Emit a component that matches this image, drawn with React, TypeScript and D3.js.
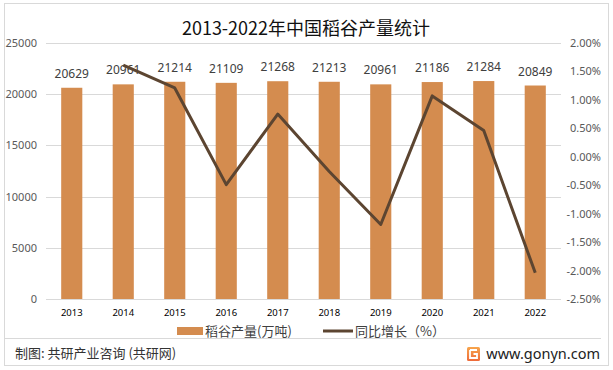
import { useEffect, useRef } from "react"
import * as d3 from "d3"

const years = ["2013", "2014", "2015", "2016", "2017", "2018", "2019", "2020", "2021", "2022"]
const output = [20629, 20961, 21214, 21109, 21268, 21213, 20961, 21186, 21284, 20849]
// 同比增长 (%), first year has none
const growth = [null, 1.61, 1.21, -0.49, 0.75, -0.26, -1.19, 1.07, 0.46, -2.04]
const leftTicks = [0, 5000, 10000, 15000, 20000, 25000]
const rightTicks = [-2.5, -2, -1.5, -1, -0.5, 0, 0.5, 1, 1.5, 2]

const W = 613
const H = 370
const CJK = "'Noto Sans CJK SC', 'Noto Sans', sans-serif"
const NUM = "'Noto Sans', 'DejaVu Sans', sans-serif"

export default function App() {
  const ref = useRef<SVGSVGElement | null>(null)

  useEffect(() => {
    if (!ref.current) return
    const svg = d3.select(ref.current)
    svg.selectAll("*").remove()

    const plot = { left: 46, right: 561, top: 43, bottom: 299 }

    const x = d3
      .scaleBand<string>()
      .domain(years)
      .range([plot.left, plot.right])
      .paddingInner(0.59)
      .paddingOuter(0.295)
    const yL = d3.scaleLinear().domain([0, 25000]).range([plot.bottom, plot.top])
    const yR = d3.scaleLinear().domain([-2.5, 2]).range([plot.bottom, plot.top])

    svg.append("rect").attr("width", W).attr("height", H).attr("fill", "#fff")

    // frame
    svg.append("rect")
      .attr("x", 4.5).attr("y", 3.5).attr("width", 604).attr("height", 362)
      .attr("fill", "none").attr("stroke", "#d9d9d9")
    svg.append("line")
      .attr("x1", 5).attr("x2", 601).attr("y1", 338.5).attr("y2", 338.5)
      .attr("stroke", "#d9d9d9")

    // title
    svg.append("text")
      .attr("x", 306).attr("y", 35)
      .attr("text-anchor", "middle")
      .attr("font-family", CJK)
      .attr("font-size", 18)
      .attr("fill", "#111")
      .text("2013-2022年中国稻谷产量统计")

    // gridlines
    svg.append("g")
      .selectAll("line")
      .data(leftTicks)
      .join("line")
      .attr("x1", plot.left).attr("x2", plot.right)
      .attr("y1", (d) => Math.round(yL(d)) + 0.5)
      .attr("y2", (d) => Math.round(yL(d)) + 0.5)
      .attr("stroke", "#d9d9d9")

    // left axis labels
    svg.append("g")
      .selectAll("text")
      .data(leftTicks)
      .join("text")
      .attr("x", 37)
      .attr("y", (d) => yL(d) + 4)
      .attr("text-anchor", "end")
      .attr("font-family", NUM)
      .attr("font-size", 11)
      .attr("fill", "#595959")
      .text((d) => String(d))

    // right axis labels
    svg.append("g")
      .selectAll("text")
      .data(rightTicks)
      .join("text")
      .attr("x", 601)
      .attr("y", (d) => yR(d) + 4)
      .attr("text-anchor", "end")
      .attr("font-family", NUM)
      .attr("font-size", 11)
      .attr("fill", "#595959")
      .text((d) => d.toFixed(2) + "%")

    // bars
    svg.append("g")
      .selectAll("rect")
      .data(output)
      .join("rect")
      .attr("x", (_, i) => x(years[i])!)
      .attr("y", (d) => yL(d))
      .attr("width", x.bandwidth())
      .attr("height", (d) => plot.bottom - yL(d))
      .attr("fill", "#d48c4f")

    // year labels
    svg.append("g")
      .selectAll("text")
      .data(years)
      .join("text")
      .attr("x", (d) => x(d)! + x.bandwidth() / 2)
      .attr("y", 316)
      .attr("text-anchor", "middle")
      .attr("font-family", NUM)
      .attr("font-size", 9.5)
      .attr("fill", "#000")
      .text((d) => d)

    // bar value labels
    svg.append("g")
      .selectAll("text")
      .data(output)
      .join("text")
      .attr("x", (_, i) => x(years[i])! + x.bandwidth() / 2)
      .attr("y", (d) => yL(d) - 10)
      .attr("text-anchor", "middle")
      .attr("font-family", NUM)
      .attr("font-size", 12)
      .attr("fill", "#404040")
      .text((d) => String(d))

    // growth line
    const pts = growth
      .map((v, i) => ({ v, year: years[i] }))
      .filter((d) => d.v !== null) as { v: number; year: string }[]
    const line = d3
      .line<{ v: number; year: string }>()
      .x((d) => x(d.year)! + x.bandwidth() / 2)
      .y((d) => yR(d.v))
    svg.append("path")
      .datum(pts)
      .attr("d", line)
      .attr("fill", "none")
      .attr("stroke", "#5c4531")
      .attr("stroke-width", 3)
      .attr("stroke-linejoin", "round")

    // legend
    const lg = svg.append("g")
    lg.append("rect").attr("x", 177).attr("y", 327).attr("width", 26).attr("height", 8).attr("fill", "#d48c4f")
    lg.append("text")
      .attr("x", 205).attr("y", 336)
      .attr("font-family", CJK).attr("font-size", 13).attr("fill", "#404040")
      .text("稻谷产量(万吨)")
    lg.append("line")
      .attr("x1", 323).attr("x2", 353).attr("y1", 331).attr("y2", 331)
      .attr("stroke", "#5c4531").attr("stroke-width", 3)
    lg.append("text")
      .attr("x", 355).attr("y", 336)
      .attr("font-family", CJK).attr("font-size", 13).attr("fill", "#404040")
      .text("同比增长（%）")

    // footer
    svg.append("text")
      .attr("x", 15).attr("y", 358)
      .attr("font-family", CJK).attr("font-size", 13).attr("fill", "#333")
      .text("制图: 共研产业咨询 (共研网)")

    const defs = svg.append("defs")
    const grad = defs.append("linearGradient").attr("id", "logoGrad").attr("x1", 0).attr("y1", 0).attr("x2", 0).attr("y2", 1)
    grad.append("stop").attr("offset", "0%").attr("stop-color", "#f7a54c")
    grad.append("stop").attr("offset", "100%").attr("stop-color", "#ee6a3a")
    const logo = svg.append("g").attr("transform", "translate(467,347)")
    logo.append("rect").attr("width", 13).attr("height", 14).attr("rx", 1.5).attr("fill", "url(#logoGrad)")
    logo.append("path")
      .attr("d", "M3 3 H10 M3 3 V11 H10 V7 H6.5")
      .attr("fill", "none").attr("stroke", "#fff").attr("stroke-width", 1.8)

    svg.append("text")
      .attr("x", 600).attr("y", 359)
      .attr("text-anchor", "end")
      .attr("font-family", NUM).attr("font-size", 14.5).attr("fill", "#222")
      .text("www.gonyn.com")
  }, [])

  return (
    <svg
      ref={ref}
      width={W}
      height={H}
      style={{ position: "absolute", left: 0, top: 0, display: "block" }}
    />
  )
}
